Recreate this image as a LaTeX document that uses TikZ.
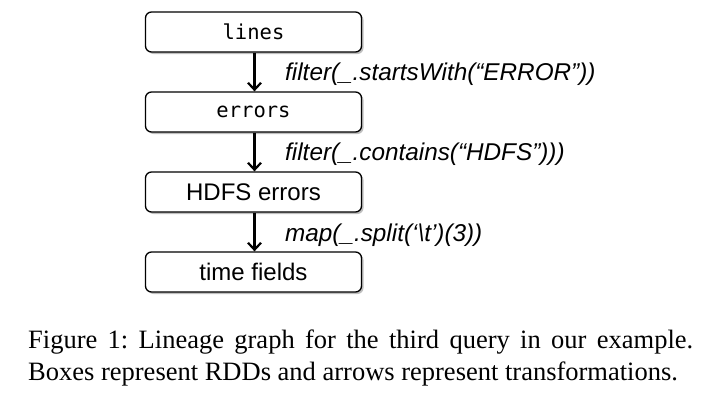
\documentclass[tikz,border=0pt]{standalone}
\usepackage{fontspec}
\setmainfont{Liberation Serif}
\setsansfont{Liberation Sans}
\setmonofont{DejaVu Sans Mono}
\usetikzlibrary{arrows.meta,shadows}
\begin{document}
\frenchspacing
\begin{tikzpicture}[x=1pt,y=-1pt,
  rdd/.style={draw, line width=1.3pt, rounded corners=6pt, minimum width=216pt,
    minimum height=40pt, inner sep=0pt, fill=white,
    drop shadow={shadow xshift=2pt, shadow yshift=-2pt, fill=black!50, opacity=0.5}},
  monotext/.style={font=\ttfamily\fontsize{20.5}{24}\selectfont},
  sanstext/.style={font=\sffamily\fontsize{24}{28}\selectfont},
  trans/.style={-{Straight Barb[length=7pt,width=13pt]}, line width=2.2pt},
  lbl/.style={anchor=base west, inner sep=0pt, font=\sffamily\itshape\fontsize{24.3}{28}\selectfont}]
\useasboundingbox (0,0) rectangle (706,405);
\node[rdd, monotext] (lines) at (253.5,32) {lines};
\node[rdd, monotext] (errors) at (253.5,112) {errors};
\node[rdd, sanstext] (hdfs) at (253.5,192) {HDFS errors};
\node[rdd, sanstext] (time) at (253.5,272) {time fields};
\draw[trans] ([xshift=1pt]lines.south) -- ([xshift=1pt]errors.north);
\draw[trans] ([xshift=1pt]errors.south) -- ([xshift=1pt]hdfs.north);
\draw[trans] ([xshift=1pt]hdfs.south) -- ([xshift=1pt]time.north);
\node[lbl] (l1) at (285,80) {filter(\_.startsWith(“ERROR”))};
\node[lbl] (l2) at (285,160.5) {filter(\_.contains(“HDFS”)))};
\node[lbl] (l3) at (285,241) {map(\_.split(‘\textbackslash t’)(3))};
\node[anchor=north west, inner sep=0pt, text width=665pt, align=justify,
  font=\rmfamily\fontsize{26.5}{32}\selectfont] (cap) at (28,330)
  {Figure 1: Lineage graph for the third query in our example.\linebreak
   Boxes represent RDDs and arrows represent transformations.};
\end{tikzpicture}
\end{document}
